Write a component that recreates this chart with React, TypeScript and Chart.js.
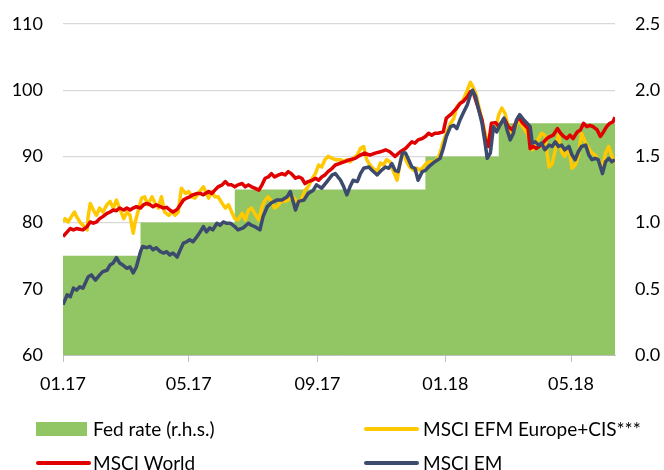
import { useEffect, useRef } from "react";
import { Chart, registerables } from "chart.js";

Chart.register(...registerables);

// x values are days since 01.01.2017
const tickDays = [0, 120, 243, 365, 485];
const tickLabels = ["01.17", "05.17", "09.17", "01.18", "05.18"];
const endDay = 527;

const fedDays = [0, 74, 164, 346, 416];
const fedRates = [0.75, 1.0, 1.25, 1.5, 1.75];

const emDays = [0,4,7,10,13,16,19,24,27,31,35,38,42,45,48,51,54,57,61,64,67,70,74,76,80,83,86,89,93,96,99,102,105,109,112,115,118,121,124,128,131,134,137,140,143,147,150,153,156,160,164,167,172,177,180,183,188,191,195,199,204,209,214,217,222,225,230,234,239,242,247,252,257,260,265,268,271,274,277,281,284,287,292,295,300,304,308,311,314,317,320,324,327,330,333,336,339,343,346,351,355,360,363,366,370,373,376,379,382,386,389,391,394,397,400,403,405,408,411,414,417,421,424,427,430,433,436,440,443,446,448,451,454,457,460,464,467,470,473,476,479,483,486,489,492,495,499,502,505,508,511,515,518,521,524,527];
const emValues = [67.6,69.1,68.8,70.1,69.8,70.3,70.1,71.8,72.1,71.3,72.1,72.6,72.8,73.6,73.9,74.7,73.9,73.6,73.1,73.3,72.4,73.3,75.6,76.4,76.2,76.4,75.9,76.2,75.6,75.4,75.6,75.1,75.4,74.8,75.9,76.9,77.1,77.4,77.1,77.9,78.6,79.4,78.6,79.2,78.9,79.9,79.6,80.1,79.9,79.9,79.4,78.9,79.2,79.9,79.6,79.4,78.9,80.9,82.4,83.0,83.4,83.4,83.9,84.7,81.9,83.2,83.4,84.4,84.9,85.7,85.2,86.2,87.2,87.4,86.4,85.4,84.2,85.4,86.4,86.2,87.4,88.2,88.4,87.9,87.2,87.9,88.4,88.2,88.9,87.9,87.7,90.5,90.5,89.5,88.4,88.2,86.4,87.7,87.9,88.7,89.2,89.7,91.2,93.0,94.5,94.7,94.2,95.5,96.5,97.8,99.3,100.0,99.0,97.0,95.0,92.0,89.7,90.5,94.5,93.7,94.7,95.8,94.0,92.5,93.5,95.5,96.3,95.5,95.0,94.5,92.0,92.2,91.7,92.0,91.0,91.7,91.5,92.2,91.5,91.7,91.0,91.5,90.2,89.5,90.7,91.5,91.7,90.2,89.5,89.7,89.5,87.4,89.2,89.7,89.2,89.5];

const worldDays = [0,4,7,10,13,16,19,23,26,29,32,35,38,42,45,48,51,54,58,61,64,67,70,74,77,80,83,86,89,93,96,99,102,105,109,112,115,118,121,124,128,131,134,139,142,145,148,152,155,158,161,164,167,171,174,177,180,183,187,190,193,196,199,202,206,209,212,215,218,222,225,228,231,234,238,241,244,247,250,253,257,260,265,269,274,279,284,288,293,298,303,308,312,317,322,327,330,333,336,339,343,346,349,352,355,358,363,366,370,373,376,379,382,386,389,392,395,400,403,406,409,413,416,419,422,425,429,432,435,438,441,444,446,449,452,456,459,462,465,468,472,475,478,481,484,487,491,494,497,500,503,506,510,513,516,519,522,525,527];
const worldValues = [77.9,78.6,79.1,78.9,79.1,79.0,78.9,79.4,80.1,79.9,80.1,80.6,80.9,81.4,81.6,81.9,81.8,82.2,81.9,82.2,81.9,82.2,82.4,82.2,82.7,82.9,82.7,82.4,82.7,82.4,82.2,82.3,81.9,81.6,82.0,82.7,83.4,83.7,83.9,84.2,84.4,84.4,84.2,84.7,84.4,84.9,85.4,85.7,86.2,85.7,85.7,85.4,85.7,85.9,85.4,85.7,85.4,85.2,84.9,85.7,86.7,86.9,87.4,86.9,87.2,87.4,87.2,87.7,87.4,86.7,86.9,86.7,85.9,86.2,86.4,86.7,86.4,86.9,87.2,87.7,88.2,88.7,89.0,89.2,89.5,89.7,90.2,90.5,90.2,90.5,90.7,91.0,90.7,90.0,90.7,91.2,91.7,92.2,92.0,92.5,92.7,93.0,93.5,93.2,93.5,93.5,93.7,95.8,96.3,96.8,97.3,98.0,98.3,99.0,99.8,99.5,98.0,95.5,92.7,91.5,95.0,95.1,94.5,95.2,95.5,94.5,94.0,95.0,96.0,95.2,94.7,94.2,91.2,91.5,91.2,91.7,92.2,92.7,93.0,93.2,94.2,93.5,93.0,92.7,93.2,92.7,93.7,94.0,95.0,94.5,94.7,94.5,94.0,93.0,93.7,94.5,95.0,95.2,95.9];

const efmDays = [0,2,5,8,11,13,16,19,23,24,26,29,32,35,38,42,45,48,51,54,58,61,64,67,69,72,75,78,81,85,88,91,94,97,101,104,107,110,113,117,120,123,126,129,134,137,139,142,145,148,152,155,158,161,164,167,171,174,177,180,183,187,190,193,196,199,202,206,209,212,215,218,222,225,228,231,234,238,241,244,247,250,253,257,260,265,268,271,274,277,281,284,287,290,293,296,300,303,306,309,312,315,319,322,325,328,331,335,338,341,344,347,351,354,357,360,363,366,370,373,376,379,382,386,389,392,394,397,400,403,406,409,413,416,419,422,425,429,432,435,438,441,444,448,451,454,457,460,464,467,470,473,476,479,483,486,489,492,495,499,502,505,508,511,515,518,521,524,527];
const efmValues = [80.1,80.6,80.1,80.9,81.6,80.9,80.1,79.6,78.9,80.9,82.9,81.9,81.1,82.2,81.6,82.7,83.2,82.2,83.4,82.2,80.6,81.6,81.1,78.4,80.1,81.9,83.7,83.9,82.7,83.9,82.9,82.2,83.9,81.6,81.1,81.6,81.1,81.6,85.2,84.4,84.7,83.9,83.7,84.4,85.4,84.4,83.7,84.7,83.9,83.9,82.9,82.2,82.7,81.6,80.6,80.4,81.4,80.4,81.9,82.2,81.4,80.4,82.4,83.4,83.9,83.2,82.2,82.7,83.4,83.2,83.4,84.2,83.4,82.9,83.7,84.9,85.4,86.7,87.4,88.7,88.4,89.5,90.0,89.7,89.5,89.5,89.2,89.5,89.2,89.7,90.2,91.2,91.5,89.5,88.7,88.2,87.7,89.0,88.7,89.5,89.2,87.9,86.4,89.2,90.7,89.2,88.4,87.9,88.2,87.9,88.4,89.0,89.2,89.2,89.5,90.5,92.2,93.5,95.0,95.7,97.5,98.0,98.5,100.0,101.2,100.3,99.5,97.5,95.5,93.5,91.5,94.0,94.2,96.3,97.3,96.5,94.5,93.2,94.5,95.5,94.7,94.0,93.2,91.0,91.7,92.7,93.5,93.2,88.4,88.9,91.0,93.2,90.7,90.0,91.2,88.2,88.7,90.0,93.5,92.0,91.2,90.5,90.2,89.5,88.4,90.5,91.5,90.0,89.0];

const seriesNames = ["Fed rate (r.h.s.)", "MSCI EFM Europe+CIS***", "MSCI World", "MSCI EM"];
const colors = { fed: "#92C664", efm: "#FFC800", world: "#E00000", em: "#3C4A6E" };

const FONT = "Lato";

export default function App() {
  const ref = useRef<HTMLCanvasElement>(null);

  useEffect(() => {
    if (!ref.current) return;
    const pts = (d: number[], v: number[]) => d.map((x, i) => ({ x, y: v[i] }));
    const fedPts: { x: number; y: number }[] = [];
    fedDays.forEach((d, i) => {
      if (i > 0) fedPts.push({ x: d, y: fedRates[i - 1] });
      fedPts.push({ x: d, y: fedRates[i] });
    });
    fedPts.push({ x: endDay, y: fedRates[fedRates.length - 1] });

    const legendPlugin = {
      id: "customLegend",
      afterDraw(chart: any) {
        const ctx = chart.ctx as CanvasRenderingContext2D;
        ctx.save();
        ctx.font = `19px ${FONT}`;
        ctx.textBaseline = "middle";
        ctx.textAlign = "left";
        const row1 = 429;
        const row2 = 463;
        const col1 = 36;
        const col2 = 364;
        const sw = 51;
        ctx.fillStyle = colors.fed;
        ctx.fillRect(col1, row1 - 7, sw, 14);
        const line = (x: number, y: number, c: string) => {
          ctx.strokeStyle = c;
          ctx.lineWidth = 4;
          ctx.lineCap = "round";
          ctx.beginPath();
          ctx.moveTo(x + 2, y);
          ctx.lineTo(x + sw + 2, y);
          ctx.stroke();
        };
        line(col2, row1, colors.efm);
        line(col1, row2, colors.world);
        line(col2, row2, colors.em);
        ctx.fillStyle = "#000";
        ctx.fillText(seriesNames[0], col1 + sw + 6, row1 + 1);
        ctx.fillText(seriesNames[1], col2 + sw + 8, row1 + 1);
        ctx.fillText(seriesNames[2], col1 + sw + 6, row2 + 1);
        ctx.fillText(seriesNames[3], col2 + sw + 8, row2 + 1);
        ctx.restore();
      },
    };

    const lineDs = (label: string, data: any, color: string) => ({
      label,
      data,
      borderColor: color,
      backgroundColor: color,
      borderWidth: 3.5,
      pointRadius: 0,
      tension: 0,
      fill: false,
      yAxisID: "y",
      borderJoinStyle: "round" as const,
    });

    const fixY = (w: number) => (s: any) => {
      s.width = w;
      s.paddingTop = 0;
      s.paddingBottom = 0;
    };

    const chart = new Chart(ref.current, {
      type: "line",
      data: {
        datasets: [
          lineDs(seriesNames[3], pts(emDays, emValues), colors.em),
          lineDs(seriesNames[2], pts(worldDays, worldValues), colors.world),
          lineDs(seriesNames[1], pts(efmDays, efmValues), colors.efm),
          {
            label: seriesNames[0],
            data: fedPts,
            borderWidth: 0,
            borderColor: "rgba(0,0,0,0)",
            backgroundColor: colors.fed,
            pointRadius: 0,
            tension: 0,
            fill: "start",
            yAxisID: "y1",
          },
        ],
      },
      options: {
        animation: false,
        responsive: false,
        layout: { padding: { top: 24, left: 0, right: 0, bottom: 0 } },
        plugins: { legend: { display: false }, tooltip: { enabled: false } },
        scales: {
          x: {
            type: "linear",
            min: 0,
            max: endDay,
            afterBuildTicks: (s: any) => {
              s.ticks = tickDays.map((v) => ({ value: v }));
            },
            ticks: {
              autoSkip: false,
              maxRotation: 0,
              padding: 11,
              color: "#000",
              font: { family: FONT, size: 18 },
              callback: (v: any) => {
                const i = tickDays.indexOf(Number(v));
                return i >= 0 ? tickLabels[i] : "";
              },
            },
            grid: { drawOnChartArea: false, drawTicks: true, tickLength: 7, color: "#BFBFBF" },
            border: { display: true, color: "#BFBFBF", width: 1 },
            afterFit: (s: any) => {
              s.height = 115;
              s.paddingLeft = 0;
              s.paddingRight = 0;
            },
          },
          y: {
            position: "left",
            min: 60,
            max: 110,
            ticks: { stepSize: 10, padding: 20, color: "#000", font: { family: FONT, size: 18 } },
            grid: { color: "#D9D9D9", lineWidth: 1.3, drawTicks: false },
            border: { display: false },
            afterFit: fixY(63),
          },
          y1: {
            position: "right",
            min: 0,
            max: 2.5,
            ticks: {
              stepSize: 0.5,
              padding: 20,
              color: "#000",
              font: { family: FONT, size: 18 },
              callback: (v: any) => Number(v).toFixed(1),
            },
            grid: { display: false, drawTicks: false },
            border: { display: false },
            afterFit: fixY(49),
          },
        },
      },
      plugins: [legendPlugin],
    });
    return () => chart.destroy();
  }, []);

  return (
    <div style={{ position: "fixed", left: 0, top: 0, width: 664, height: 470, background: "#fff", overflow: "hidden" }}>
      <canvas ref={ref} width={664} height={470} style={{ display: "block" }} />
    </div>
  );
}
